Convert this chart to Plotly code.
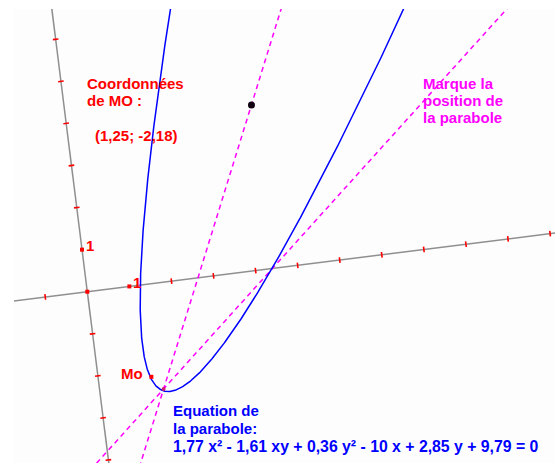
import numpy as np
import plotly.graph_objects as go

# ---------------- data (math coordinates of the oblique/rotated frame) -------------
conic_A, conic_B, conic_C = 1.77, -1.61, 0.36      # x², xy, y²
conic_D, conic_E, conic_F = -10.0, 2.85, 9.79      # x, y, const
point_Mo = (1.25, -2.18)
point_black = (4.39, 3.89)
point_vertex = (1.5, -2.5)
point_chord = (4.4, 0.0)
unit_points = [(0, 0), (1, 0), (0, 1)]
x_ticks = [-2, -1, 2, 3, 4, 5, 6, 7, 8, 9, 10, 11, 12]
y_ticks = [-6, -5, -4, -3, -2, -1, 2, 3, 4, 5, 6, 7, 8]

txt_coord = ["Coordonnées", "de MO :", "(1,25; -2,18)"]
txt_marque = ["Marque la", "position de", "la parabole"]
txt_eq = ["Equation de", "la parabole:",
          "1,77 x² - 1,61 xy + 0,36 y² - 10 x + 2,85 y + 9,79 = 0"]

# ---------------- frame / layout parameters ----------------
W, H = 555, 463
PL, PT = 14, 9                  # plot area left / top (pixels)
ORIG = (87.3, 291.7)            # origin in pixels
U = 42.4                        # pixels per unit
TH = np.radians(7.15)           # rotation of the frame
c, s = np.cos(TH), np.sin(TH)


def tp(x, y):
    x = np.asarray(x, float)
    y = np.asarray(y, float)
    return x * c - y * s, x * s + y * c


def line_through(p, q, t0=-20, t1=20):
    t = np.array([t0, t1])
    xs = p[0] + t * (q[0] - p[0])
    ys = p[1] + t * (q[1] - p[1])
    return tp(xs, ys)


fig = go.Figure()

# axes of the frame
GREY = "#8f8f8f"
ax_x = tp([-6, 16], [0, 0])
ax_y = tp([0, 0], [-9, 11])
for X, Y in (ax_x, ax_y):
    fig.add_trace(go.Scatter(x=X, y=Y, mode="lines",
                             line=dict(color=GREY, width=1.5), hoverinfo="skip"))

# dashed magenta lines
for q in (point_black, point_chord):
    X, Y = line_through(point_vertex, q, -3, 6)
    fig.add_trace(go.Scatter(x=X, y=Y, mode="lines",
                             line=dict(color="#ff00ff", width=1.5, dash="5px,4px"),
                             hoverinfo="skip"))

# parabola from its equation
a2 = conic_B ** 2 - 4 * conic_A * conic_C
a1 = 2 * conic_B * conic_D - 4 * conic_A * conic_E
a0 = conic_D ** 2 - 4 * conic_A * conic_F
roots = np.roots([a2, a1, a0]).real
ymin = roots.max()
t = np.linspace(0, np.sqrt(12 - ymin), 600)
yy = ymin + t ** 2
disc = np.clip(a2 * yy ** 2 + a1 * yy + a0, 0, None)
xl = (-(conic_B * yy + conic_D) - np.sqrt(disc)) / (2 * conic_A)
xr = (-(conic_B * yy + conic_D) + np.sqrt(disc)) / (2 * conic_A)
px_ = np.concatenate([xl[::-1], xr])
py_ = np.concatenate([yy[::-1], yy])
X, Y = tp(px_, py_)
fig.add_trace(go.Scatter(x=X, y=Y, mode="lines",
                         line=dict(color="#0000ff", width=1.5), hoverinfo="skip"))

# ticks
X, Y = tp(x_ticks, [0] * len(x_ticks))
fig.add_trace(go.Scatter(x=X, y=Y, mode="markers", hoverinfo="skip",
                         marker=dict(symbol="line-ns", size=4, angle=-7.15,
                                     line=dict(color="#ff0000", width=1.6))))
X, Y = tp([0] * len(y_ticks), y_ticks)
fig.add_trace(go.Scatter(x=X, y=Y, mode="markers", hoverinfo="skip",
                         marker=dict(symbol="line-ew", size=4, angle=-7.15,
                                     line=dict(color="#ff0000", width=1.6))))

# points
X, Y = tp([p[0] for p in unit_points] + [point_Mo[0]],
          [p[1] for p in unit_points] + [point_Mo[1]])
fig.add_trace(go.Scatter(x=X, y=Y, mode="markers", hoverinfo="skip",
                         marker=dict(symbol="square", size=4, color="#ff0000")))
X, Y = tp([point_black[0]], [point_black[1]])
fig.add_trace(go.Scatter(x=X, y=Y, mode="markers", hoverinfo="skip",
                         marker=dict(symbol="circle", size=7, color="#100010")))
X, Y = tp([point_vertex[0]], [point_vertex[1]])
fig.add_trace(go.Scatter(x=X, y=Y, mode="markers", hoverinfo="skip",
                         marker=dict(symbol="circle", size=4, color="#d0206a")))

# ---------------- text ----------------
FONT = "Liberation Sans, Arial, sans-serif"
PW, PH = W - PL, H - PT


def label(text, left, baseline, color, size=15):
    fig.add_annotation(text="<b>%s</b>" % text, xref="paper", yref="paper",
                       x=(left - PL) / PW, y=1 - (baseline - 5.2 - PT) / PH,
                       xanchor="left", yanchor="middle", showarrow=False,
                       borderpad=0, font=dict(family=FONT, size=size, color=color))


RED, MAG, BLUE = "#ff0000", "#ff00ff", "#0000ff"
label(txt_coord[0], 85.5, 88.5, RED)
label(txt_coord[1], 85.5, 105.5, RED)
label(txt_coord[2], 93.5, 141.0, RED)
for i, tx in enumerate(txt_marque):
    label(tx, 421.5, 88.5 + 17 * i, MAG)
label(txt_eq[0], 172, 416.0, BLUE)
label(txt_eq[1], 172, 433.3, BLUE)
label(txt_eq[2], 172, 451.5, BLUE, size=15.8)
label("Mo", 119.5, 378.3, RED)
label("1", 131.5, 288.0, RED)
label("1", 84.5, 251.0, RED)

fig.update_layout(
    width=W, height=H, showlegend=False,
    margin=dict(l=PL, r=0, t=PT, b=0, pad=0),
    paper_bgcolor="#ffffff", plot_bgcolor="#fdfdfd",
    xaxis=dict(range=[(PL - ORIG[0]) / U, (W - ORIG[0]) / U], visible=False,
               fixedrange=True),
    yaxis=dict(range=[(ORIG[1] - H) / U, (ORIG[1] - PT) / U], visible=False,
               fixedrange=True),
)

fig.write_html("out.html", config={"displayModeBar": False},
               post_script="document.body.style.margin='0';"
                           "document.body.style.overflow='hidden';")
